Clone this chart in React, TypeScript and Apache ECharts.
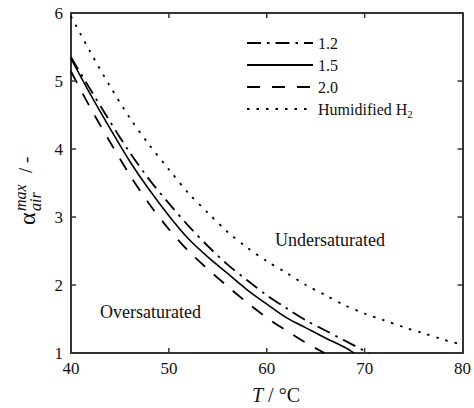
import React, { useEffect, useRef } from "react";
import * as echarts from "echarts";

const tempsA = [40, 42, 44, 46, 48, 50, 52, 54, 56, 58, 60, 62, 64, 66, 68, 70, 70.4];
const ratio12 = [5.35, 4.87, 4.4, 3.95, 3.55, 3.2, 2.87, 2.57, 2.3, 2.07, 1.85, 1.66, 1.48, 1.33, 1.18, 1.03, 1.0];
const tempsB = [40, 42, 44, 46, 48, 50, 52, 54, 56, 58, 60, 62, 64, 66, 68, 68.9];
const ratio15 = [5.33, 4.8, 4.3, 3.82, 3.4, 3.02, 2.68, 2.41, 2.17, 1.93, 1.72, 1.52, 1.37, 1.22, 1.08, 1.0];
const tempsC = [40, 42, 44, 46, 48, 50, 52, 54, 56, 58, 60, 62, 64, 65.9];
const ratio20 = [5.14, 4.6, 4.1, 3.62, 3.19, 2.82, 2.5, 2.23, 1.98, 1.74, 1.52, 1.33, 1.15, 1.0];
const tempsD = [40, 42, 44, 46, 48, 50, 52, 54, 56, 58, 60, 62, 64, 66, 68, 70, 72, 74, 76, 78, 80];
const humidified = [5.95, 5.42, 4.92, 4.46, 4.06, 3.7, 3.35, 3.06, 2.78, 2.55, 2.35, 2.18, 2.0, 1.85, 1.7, 1.58, 1.48, 1.38, 1.29, 1.2, 1.12];

const seriesNames = ["1.2", "1.5", "2.0", "Humidified H2"];
const xTickValues = [40, 50, 60, 70, 80];
const yTickValues = [1, 2, 3, 4, 5, 6];
const xTicks = { min: 40, max: 80, interval: 10 };
const yTicks = { min: 1, max: 6, interval: 1 };

const FONT = "Liberation Serif";
const INK = "#333";
const GRID = { left: 71, right: 9, top: 13, bottom: 55 };

const zip = (xs: number[], ys: number[]) => xs.map((x, i) => [x, ys[i]]);

export default function App() {
  const ref = useRef<HTMLDivElement>(null);
  useEffect(() => {
    if (!ref.current) return;
    const chart = echarts.init(ref.current, null, { renderer: "svg" });
    const axisCommon = {
      show: true,
      axisLine: { show: true, onZero: false, lineStyle: { color: INK, width: 2 } },
      axisTick: { show: false },
      splitLine: { show: false },
    };
    const lineSeries = (name: string, data: number[][], type: any, width: number) => ({
      name,
      type: "line",
      xAxisIndex: 0,
      yAxisIndex: 0,
      data,
      smooth: 0.3,
      symbol: "none",
      showSymbol: false,
      lineStyle: { color: "#000", width, type },
      itemStyle: { color: "#000" },
      z: 3,
    });
    chart.setOption({
      animation: false,
      backgroundColor: "#fff",
      grid: { ...GRID, containLabel: false },
      legend: {
        orient: "vertical",
        left: 241,
        top: 30,
        itemWidth: 66,
        itemHeight: 12,
        itemGap: 6,
        data: seriesNames,
        itemStyle: { opacity: 0 },
        textStyle: {
          fontFamily: FONT,
          fontSize: 16,
          color: "#111",
          rich: {
            s: { fontFamily: FONT, fontSize: 11, color: "#111", padding: [10, 0, 0, 0] },
          },
        },
        formatter: (n: string) => (n === "Humidified H2" ? "Humidified H{s|2}" : n),
      },
      xAxis: [
        {
          type: "value",
          ...xTicks,
          position: "bottom",
          ...axisCommon,
          axisLabel: { color: "#111", fontFamily: FONT, fontSize: 17, margin: 7 },
        },
        {
          type: "value",
          ...xTicks,
          position: "top",
          ...axisCommon,
          axisLabel: { show: false },
        },
      ],
      yAxis: [
        {
          type: "value",
          ...yTicks,
          position: "left",
          ...axisCommon,
          axisLabel: { color: "#111", fontFamily: FONT, fontSize: 17, margin: 8 },
        },
        {
          type: "value",
          ...yTicks,
          position: "right",
          ...axisCommon,
          axisLabel: { show: false },
        },
      ],
      series: [
        lineSeries(seriesNames[0], zip(tempsA, ratio12), [14, 6, 2.5, 6], 1.8),
        lineSeries(seriesNames[1], zip(tempsB, ratio15), "solid", 1.6),
        lineSeries(seriesNames[2], zip(tempsC, ratio20), [13, 12], 1.8),
        lineSeries(seriesNames[3], zip(tempsD, humidified), [2.5, 7], 1.8),
      ],
    });

    const xPix = (v: number) => chart.convertToPixel({ xAxisIndex: 0 }, v) as number;
    const yPix = (v: number) => chart.convertToPixel({ yAxisIndex: 0 }, v) as number;
    const x0 = xPix(xTicks.min);
    const x1 = xPix(xTicks.max);
    const y0 = yPix(yTicks.min);
    const y1 = yPix(yTicks.max);
    const TL = 5;
    const tickStyle = { stroke: INK, lineWidth: 1.5, fill: null };
    const ticks: any[] = [];
    xTickValues.slice(1, -1).forEach((v) => {
      const px = xPix(v);
      ticks.push({ type: "polyline", z: 10, silent: true, shape: { points: [[px, y0], [px, y0 - TL]] }, style: tickStyle });
      ticks.push({ type: "polyline", z: 10, silent: true, shape: { points: [[px, y1], [px, y1 + TL]] }, style: tickStyle });
    });
    yTickValues.slice(1, -1).forEach((v) => {
      const py = yPix(v);
      ticks.push({ type: "polyline", z: 10, silent: true, shape: { points: [[x0, py], [x0 + TL, py]] }, style: tickStyle });
      ticks.push({ type: "polyline", z: 10, silent: true, shape: { points: [[x1, py], [x1 - TL, py]] }, style: tickStyle });
    });

    chart.setOption({
      graphic: [
        ...ticks,
        {
          type: "text",
          left: 275,
          top: 231,
          style: { text: "Undersaturated", fontFamily: FONT, fontSize: 18, fill: "#111" },
        },
        {
          type: "text",
          left: 100,
          top: 303,
          style: { text: "Oversaturated", fontFamily: FONT, fontSize: 18, fill: "#111" },
        },
        {
          type: "text",
          x: 276,
          y: 395,
          style: {
            text: "{i|T} / °C",
            fontFamily: FONT,
            fontSize: 20,
            fill: "#111",
            align: "center",
            verticalAlign: "middle",
            rich: { i: { fontFamily: FONT, fontStyle: "italic", fontSize: 20, fill: "#111" } },
          },
        },
        {
          type: "group",
          x: 27,
          y: 187,
          rotation: Math.PI / 2,
          children: [
            {
              type: "text",
              x: -38,
              y: 0,
              style: { text: "α", fontFamily: FONT, fontSize: 24, fill: "#111", verticalAlign: "middle" },
            },
            {
              type: "text",
              x: -24,
              y: -7,
              style: { text: "max", fontFamily: FONT, fontStyle: "italic", fontSize: 16, fill: "#111", verticalAlign: "middle" },
            },
            {
              type: "text",
              x: -24,
              y: 8,
              style: { text: "air", fontFamily: FONT, fontStyle: "italic", fontSize: 16, fill: "#111", verticalAlign: "middle" },
            },
            {
              type: "text",
              x: 14,
              y: -2,
              style: { text: "/ -", fontFamily: FONT, fontSize: 19, fill: "#111", verticalAlign: "middle" },
            },
          ],
        },
      ],
    });
    return () => chart.dispose();
  }, []);
  return <div ref={ref} style={{ width: 474, height: 408, position: "absolute", left: 0, top: 0 }} />;
}
